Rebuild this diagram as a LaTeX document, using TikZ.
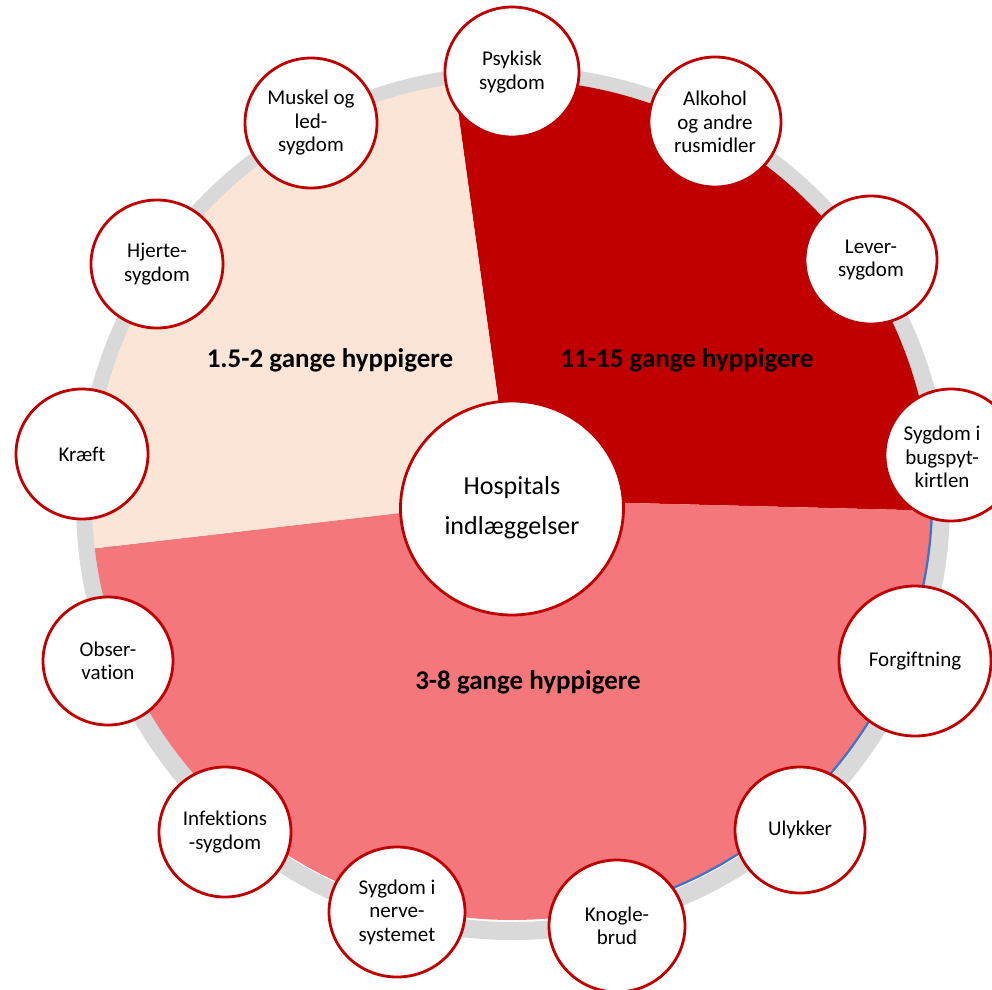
\documentclass[tikz,border=0pt]{standalone}
\usepackage{fontspec}
\setmainfont{Carlito}[Ligatures=NoCommon]
\usetikzlibrary{shapes.geometric}
\definecolor{darkred}{HTML}{C00000}
\definecolor{peach}{HTML}{FBE5D6}
\definecolor{pinkred}{RGB}{243,119,123}
\definecolor{ringgray}{HTML}{D9D9D9}
\definecolor{edgeblue}{HTML}{4472C4}
\begin{document}
\begin{tikzpicture}[x=1pt,y=1pt,yscale=-1,
  bubble/.style={ellipse, draw=darkred, line width=2.8pt, fill=white, inner sep=0pt,
    minimum width=132pt, minimum height=130pt, align=center, text=black,
    font=\fontsize{21}{23.5}\selectfont},
  bubbletext/.style={align=center, text=black, inner sep=0pt,
    font=\fontsize{21}{23.5}\selectfont},
  hub/.style={bubble, minimum width=223pt, minimum height=214pt,
    font=\fontsize{26}{40}\selectfont},
  slicelabel/.style={font=\fontsize{27}{31}\selectfont\bfseries, text=black, inner sep=0pt}]
\useasboundingbox (0,0) rectangle (992,989);
\fill[white] (0,0) rectangle (992,989);
% gray ring
\draw[ringgray, line width=18pt] (513,503) circle[radius=428];
% pie slices
\coordinate (pc) at (512,500);
\fill[darkred] (pc) -- ++(-97.9:420) arc[start angle=-97.9, end angle=1.45, radius=420] -- cycle;
\fill[pinkred] (pc) -- ++(1.45:420) arc[start angle=1.45, end angle=173.4, radius=420] -- cycle;
\fill[peach] (pc) -- ++(173.4:420) arc[start angle=173.4, end angle=262.1, radius=420] -- cycle;
\draw[edgeblue, line width=2.3pt] (pc) ++(2:420) arc[start angle=2, end angle=73, radius=420];
% slice labels
\node[slicelabel] (l1) at (330,360) {1.5-2 gange hyppigere};
\node[slicelabel] (l2) at (687,360) {11-15 gange hyppigere};
\node[slicelabel] (l3) at (528,682) {3-8 gange hyppigere};
% hub
\node[hub] (hub) at (512,508) {Hospitals\\indlæggelser};
% bubbles
\node[bubble, minimum width=134pt] (psy) at (512,72) {Psykisk\\sygdom};
\node[bubble] (musk) at (311,123) {Muskel og\\led-\\sygdom};
\node[bubble] (alk) at (715,122) {Alkohol\\og andre\\rusmidler};
\node[bubble, minimum height=128pt] (hjer) at (157,264) {Hjerte-\\sygdom};
\node[bubble, minimum height=128pt] (lev) at (871,260) {Lever-\\sygdom};
\node[bubble] (kr) at (82,454) {Kræft};
\node[bubble, minimum height=132pt] (bug) at (951,455) {};
\node[bubbletext] (bugtext) at (942,457) {Sygdom i\\bugspyt-\\kirtlen};
\node[bubble, minimum width=130pt, minimum height=128pt] (obs) at (108,661) {Obser-\\vation};
\node[bubble, minimum width=152pt, minimum height=150pt] (forg) at (915,661) {Forgiftning};
\node[bubble] (inf) at (225,832) {Infektions\\-sygdom};
\node[bubble, minimum width=136pt] (ner) at (397,912) {Sygdom i\\nerve-\\systemet};
\node[bubble, minimum width=136pt, minimum height=132pt] (kno) at (617,926) {Knogle-\\brud};
\node[bubble, minimum width=130pt, minimum height=126pt] (uly) at (800,830) {Ulykker};
\end{tikzpicture}
\end{document}
